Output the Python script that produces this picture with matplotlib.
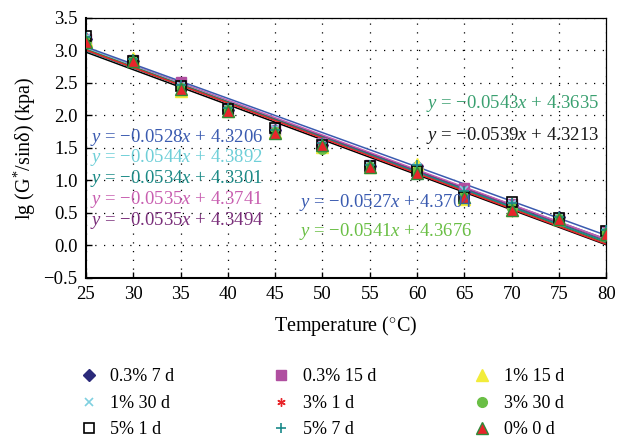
import numpy as np
import matplotlib
matplotlib.use("Agg")
import matplotlib.pyplot as plt

plt.rcParams['font.family'] = ['Liberation Serif', 'DejaVu Serif']
plt.rcParams['mathtext.fontset'] = 'custom'
plt.rcParams['mathtext.rm'] = 'Liberation Serif'
plt.rcParams['mathtext.it'] = 'Liberation Serif:italic'

temps = [25, 30, 35, 40, 45, 50, 55, 60, 65, 70, 75, 80]

labels = ["0.3% 7 d", "0.3% 15 d", "1% 15 d", "1% 30 d", "3% 1 d",
          "3% 30 d", "5% 1 d", "5% 7 d", "0% 0 d"]

# measured lg(G*/sin d) for each sample
s_03_7 = [3.17, 2.84, 2.48, 2.08, 1.77, 1.55, 1.22, 1.22, 0.82, 0.62, 0.43, 0.21]
s_03_15 = [3.18, 2.86, 2.52, 2.10, 1.78, 1.57, 1.23, 1.18, 0.88, 0.64, 0.42, 0.22]
s_1_15 = [3.16, 2.88, 2.37, 2.07, 1.74, 1.52, 1.20, 1.26, 0.72, 0.55, 0.41, 0.18]
s_1_30 = [3.19, 2.85, 2.46, 2.11, 1.79, 1.58, 1.22, 1.20, 0.86, 0.63, 0.43, 0.20]
s_3_1 = [3.12, 2.82, 2.38, 2.05, 1.72, 1.53, 1.18, 1.12, 0.75, 0.55, 0.40, 0.17]
s_3_30 = [3.15, 2.85, 2.42, 2.09, 1.75, 1.48, 1.20, 1.15, 0.78, 0.57, 0.41, 0.19]
s_5_1 = [3.22, 2.84, 2.45, 2.10, 1.80, 1.55, 1.22, 1.14, 0.75, 0.67, 0.42, 0.22]
s_5_7 = [3.21, 2.87, 2.47, 2.12, 1.78, 1.58, 1.24, 1.24, 0.84, 0.65, 0.44, 0.23]
s_0_0 = [3.13, 2.83, 2.40, 2.07, 1.73, 1.55, 1.20, 1.12, 0.74, 0.55, 0.40, 0.18]
series = [s_03_7, s_03_15, s_1_15, s_1_30, s_3_1, s_3_30, s_5_1, s_5_7, s_0_0]

# linear trend lines: slope, intercept
slopes = [-0.0528, -0.0535, -0.0527, -0.0544, -0.0535, -0.0541, -0.0539, -0.0534, -0.0543]
intercepts = [4.3206, 4.3741, 4.3704, 4.3892, 4.3494, 4.3676, 4.3213, 4.3301, 4.3635]

markers = ["D", "s", "^", "x", (6, 2, 0), "o", "s", "+", "^"]
faces = ["#2b2a7a", "#b04fa0", "#f2ec3a", "#7fd0e0", "#e8252a", "#6abf45", "none", "#1a8a8a", "#e8252a"]
edges = ["#2b2a7a", "#b04fa0", "#f2ec3a", "#7fd0e0", "#e8252a", "#6abf45", "black", "#1a8a8a", "#2e8b3a"]
msizes = [6, 7, 8, 6, 6, 7, 7, 7, 8]
line_colors = ["#3a5bb0", "#c85fb0", "#3a5bb0", "#6fcfd8", "#7a2f7a", "#2e8b3a", "black", "#1a8a8a", "#e8252a"]
eq_colors = ["#3a5bb0", "#c85fb0", "#3a5bb0", "#6fcfd8", "#7a2f7a", "#6abf45", "#1a1a1a", "#1b8a86", "#3aa070"]

fig = plt.figure(figsize=(6.27, 4.37), dpi=100)
ax = fig.add_axes([0.137, 0.364, 0.83, 0.595])

xfit = np.array([25, 80])
for i in range(len(labels)):
    ax.plot(xfit, slopes[i] * xfit + intercepts[i], color=line_colors[i], lw=1.1, zorder=2)

handles = []
for i in range(len(labels)):
    mew = 1.2 if markers[i] in ("x", "+", "s") and faces[i] in ("none", "#7fd0e0", "#1a8a8a") else 1.0
    h, = ax.plot(temps, series[i], linestyle="none", marker=markers[i], ms=msizes[i],
                 mfc=faces[i], mec=edges[i], mew=mew, zorder=3, label=labels[i])
    handles.append(h)

# equation labels
eq_pos = {0: (0.008, 0.542, "left"), 3: (0.008, 0.465, "left"), 7: (0.008, 0.384, "left"),
          1: (0.008, 0.302, "left"), 4: (0.008, 0.219, "left"), 2: (0.410, 0.292, "left"),
          5: (0.410, 0.177, "left"), 8: (0.987, 0.669, "right"), 6: (0.987, 0.546, "right")}
for i, (ex, ey, ha) in eq_pos.items():
    txt = r"$y$ = $-$%.4f$x$ + %.4f" % (-slopes[i], intercepts[i])
    ax.text(ex, ey, txt, transform=ax.transAxes, ha=ha, va="center",
            fontsize=13.5, color=eq_colors[i], zorder=4)

ax.set_xlim(25, 80)
ax.set_ylim(-0.5, 3.5)
ax.set_xticks(np.arange(25, 81, 5))
ax.set_yticks(np.arange(-0.5, 3.51, 0.5))
ax.set_yticklabels(["\u22120.5"] + ["%.1f" % v for v in np.arange(0, 3.51, 0.5)])
ax.tick_params(direction="in", length=4, labelsize=13.5, width=1, pad=6)
ax.grid(True, color="black", linestyle=(0, (1, 6)), linewidth=0.9)
for side in ["left", "bottom"]:
    ax.spines[side].set_linewidth(1.5)
for side in ["top", "right"]:
    ax.spines[side].set_linewidth(0.9)

ax.set_xlabel(r"Temperature ($^{\circ}$C)", fontsize=14.5, labelpad=8)
ax.set_ylabel(r"lg (G$^{*}$/sinδ) (kpa)", fontsize=14.5, labelpad=4)

# legend reads row-wise in three columns
order = [0, 3, 6, 1, 4, 7, 2, 5, 8]
fig.legend([handles[k] for k in order], [labels[k] for k in order], ncol=3,
           loc="lower left", bbox_to_anchor=(0.098, -0.04), frameon=False,
           fontsize=13, columnspacing=5.3, handletextpad=0.6, labelspacing=0.52,
           handlelength=1.2)

fig.savefig("out.png", dpi=100)
